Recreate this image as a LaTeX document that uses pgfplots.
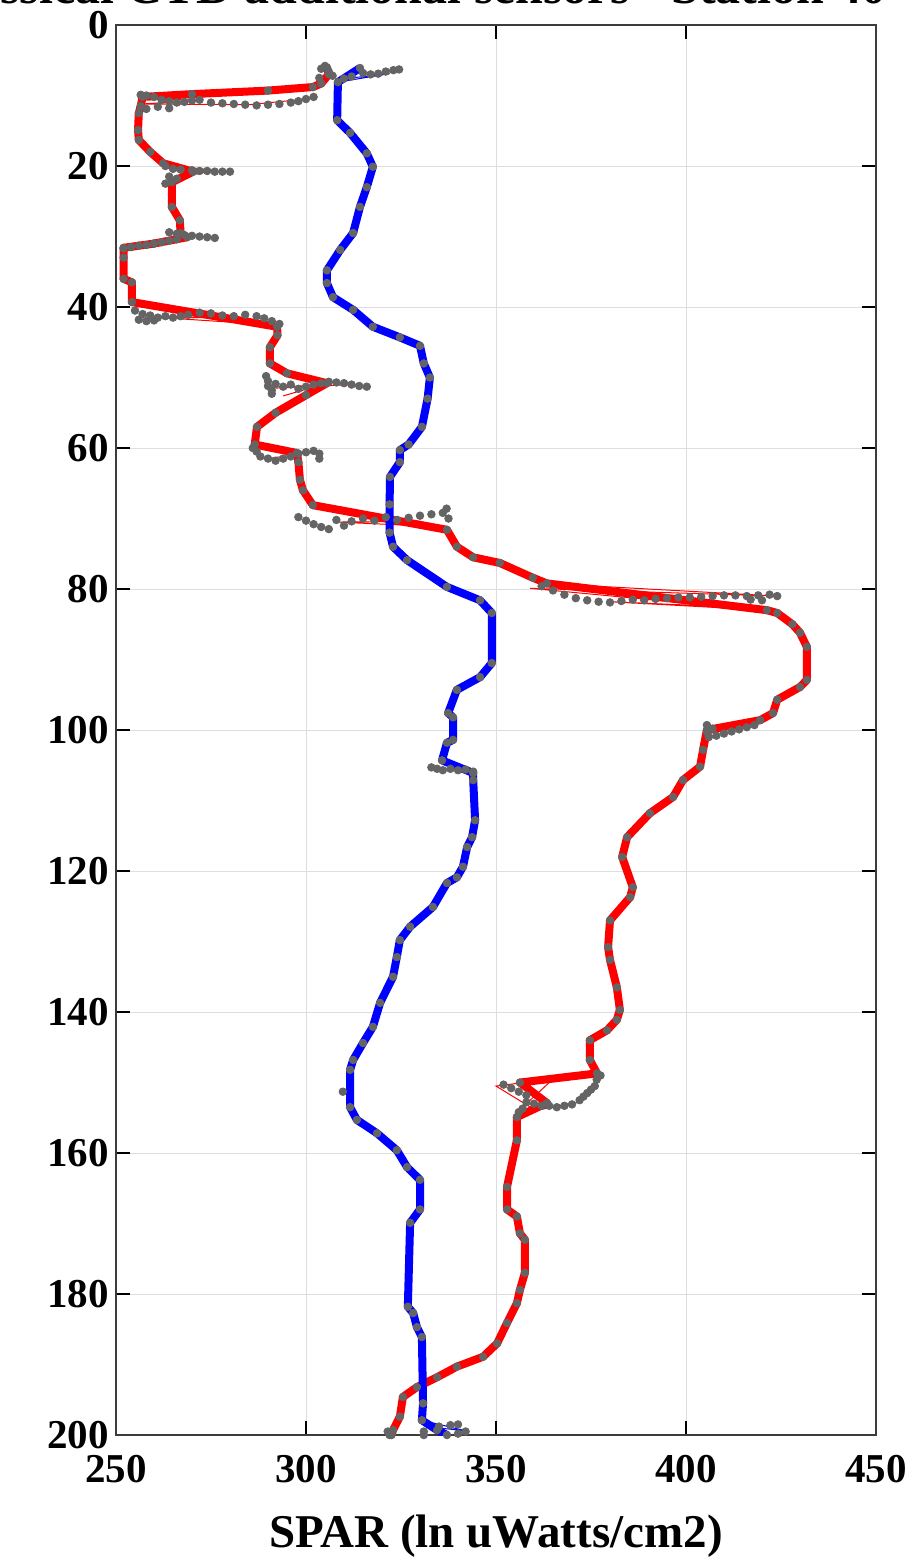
\documentclass[border=0pt]{standalone}
\usepackage{fontspec}
\setmainfont{Liberation Serif}
\usepackage{pgfplots}
\usepackage{pgfplotstable}
\pgfplotsset{compat=1.18}

\definecolor{rawgray}{RGB}{100,100,100}
\definecolor{gridgray}{RGB}{222,222,222}
\definecolor{axisgray}{RGB}{60,60,60}

% red sensor (x = SPAR, y = depth)
\pgfplotstableread{
x y
305.5 6.0
306 7
304 8.3
301.8 8.8
290 9.3
270 9.8
257 10.2
256.5 11.5
256 12.5
255.8 14.9
256 16.3
259 18
262.4 19.6
270.3 20.8
264.7 22.3
264.7 25.8
266.8 27.7
267 29.5
268.7 30.1
260 31
252 31.6
252 33
252 36
254.2 36.5
254.2 39.3
292.4 42.8
292.5 44
290.5 45.7
290.5 48
295 49.4
305.5 50.8
300 52.5
292 55
287.1 57
286.5 59.5
297.6 60.7
298 62
298.4 64.5
299.2 66
301.8 68.1
337.1 71.6
339.7 74
344 75.5
351 76.3
359.7 78.4
363.4 79.2
421.3 83
424 83.4
428 85
430 86.2
431.8 88.2
431.8 92.9
430 93.9
424 95.7
422.9 97.6
419.5 98.6
405.5 100
404.5 102.8
403.7 105.2
399.2 107.1
396.6 109.5
390.5 111.8
384.5 115.2
383.2 118
386 122.3
385.3 123.7
380 127
379.5 130.8
380 132.6
381.8 136.5
382.6 139.7
381.8 141.1
379.2 142.6
374.7 144
374.7 146.8
376.6 148.7
356.3 150
363.4 152.9
355.5 154.9
355.5 158.2
352.9 164.8
352.9 168
355.5 169
356.3 171.4
357.6 172.3
357.6 177
356.3 179.4
355.5 181.3
352.9 184.1
350.3 187
346.6 188.9
339.7 190.3
334.5 191.8
329.2 193.2
325.5 194.6
324.7 197.4
322.9 199.3
322.5 200
}\redtable

% blue sensor
\pgfplotstableread{
x y
314.2 6.1
308.4 8.1
308.2 13.5
311.6 15.3
316 18.2
317.6 20.1
316 23
314.2 25.8
312.4 29.5
309 31.9
305.5 34.8
305.5 36.6
307.1 38.6
312.4 40.4
317.6 42.8
324.7 44.3
330 45.5
331 48
332.6 50
332 53
330.5 57
327 59.5
324.7 60.3
324.7 62
322.1 64.1
322 68
322 72
322.9 74
326.6 75.9
337.1 79.7
345.8 81.6
348.9 83.4
348.9 90.5
345.8 92.5
339.7 94.3
337.4 97.6
338.7 98.2
338.7 101.4
337.1 101.8
335.8 104.3
344 106.1
344 107.1
344.5 112.8
343.7 115.2
342.4 116.6
341.3 119.4
339.7 120.9
337.1 121.7
333.4 125.1
327.4 127.9
324.7 129.8
323.9 132.2
322.9 135
319.5 138.7
317.6 142.1
315 144.4
312.4 146.8
311.6 148.2
311.6 153.5
313.4 155.3
318.7 157.2
323.9 159.6
326.6 162
330 163.8
330 168
327.4 169.9
326.8 181.8
328.2 182.7
329.2 184.7
330.5 186.1
330.8 195.5
330.5 197.9
334.5 199.3
337.1 200
}\bluetable

% raw samples off the smoothed profiles
\pgfplotstableread{
x y
304 6.2
305 5.8
306 6.6
307 7.2
303.5 7.5
310 7.6
312 7.3
315 6.8
317 7.0
319 6.9
321 6.6
323 6.4
324.5 6.3
256.5 9.9
258 10.0
260 10.2
262 10.6
264 10.8
266 11.0
268 10.9
270 10.7
272 10.6
275 11.0
278 11.1
281 11.2
284 11.3
287 11.4
290 11.3
293 11.2
296 11.0
298 10.8
300 10.5
302 10.2
256.5 11.6
258 11.9
261 11.6
264 11.8
263 20.0
265 20.4
267 20.5
270 20.6
272 20.7
274 20.7
276 20.8
278 20.8
280 20.8
264 21.5
266 21.8
263 22.5
264 29.4
266 29.6
268 29.8
270 29.9
272 30.0
274 30.1
276 30.2
252 31.7
254 31.5
256 31.3
258 31.2
260 31.0
262 30.8
264 30.6
266 30.4
255 40.5
257 41.0
259 41.2
261 41.5
263 41.3
265 41.5
267 41.3
269 41.1
272 40.8
275 40.9
278 41.2
281 41.3
284 41.1
287 41.3
289 41.6
291 42.0
293 42.4
256 41.8
258 42.0
260 41.9
289.5 49.8
290 50.5
290 51.2
291 51.8
292 50.9
294 51.3
296 51.0
298 51.6
300 51.3
302 51.0
304 50.8
306 50.6
308 50.7
310 50.8
312 51.0
314 51.2
316 51.3
291 52.3
286 60.0
287 60.5
288 61.2
290 61.5
292 61.8
294 61.5
296 61.2
298 60.8
300 60.6
302 60.4
303.5 60.8
303.5 61.5
298 69.8
300 70.3
302 70.8
304 71.2
306 71.5
308 70.2
310 71.0
312 70.4
315 70.0
318 70.3
321 69.8
324 70.2
327 69.9
330 69.6
333 69.4
336 69.2
337 68.6
337.5 70.0
362 79.6
365 80.2
368 80.8
371 81.3
374 81.6
377 81.8
380 81.9
383 81.7
386 81.5
389 81.6
392 81.4
395 81.3
398 81.2
401 81.2
404 81.1
407 81.0
410 80.9
413 80.9
416 81.0
419 80.9
422 80.8
424 81.0
420 81.6
417 81.5
405.5 99.3
405.5 100.3
406 101.0
408 100.8
410 100.5
412 100.2
414 99.9
416 99.6
418 99.3
407 99.8
333 105.3
334.5 105.5
336 105.7
338 105.5
340 105.7
342 105.6
344 105.9
352 150.3
354 150.8
356 151.3
358 151.8
358 152.8
357 153.7
356 154.2
360 153.0
362 153.3
364 153.3
366 153.5
368 153.3
370 153.1
372 152.5
373 152.0
374 151.5
375 151.0
376 150.5
376.5 149.6
377.5 149.0
309.7 151.3
335 198.8
338 198.6
340 198.5
342 199.5
340 199.8
331 199.5
331 200
321.5 199.5
322 200
}\rawtable

\begin{document}
\begin{tikzpicture}
\useasboundingbox (0,0) rectangle (454.5pt,-782pt);
\begin{axis}[
    scale only axis,
    width=380pt,
    height=705pt,
    at={(58pt,-12.5pt)},
    anchor=north west,
    xmin=250, xmax=450,
    ymin=0, ymax=200,
    y dir=reverse,
    xtick={250,300,350,400,450},
    ytick={0,20,40,60,80,100,120,140,160,180,200},
    tick align=inside,
    major tick length=7pt,
    every tick/.style={line width=0.6pt, color=black},
    grid=major,
    major grid style={line width=0.5pt, color=gridgray},
    axis line style={line width=0.8pt, color=axisgray},
    /pgf/number format/assume math mode=true,
    ticklabel style={font=\fontsize{20.5}{24}\selectfont\bfseries},
    xticklabel style={yshift=-6.7pt},
    xlabel={SPAR (ln uWatts/cm2)},
    xlabel style={at={(axis description cs:0.5,-0.0794)}, anchor=base,
        font=\fontsize{23.5}{28}\selectfont\bfseries},
    title={Classical CTD additional sensors - Station 40},
    title style={at={(axis description cs:-0.2513,1.0071)}, anchor=base west,
        inner sep=0pt, font=\fontsize{25}{30}\selectfont\bfseries},
]

% raw samples
\addplot[only marks, mark=*, mark size=1.9pt, rawgray, mark options={draw=none, fill=rawgray}] table[x=x, y=y] {\rawtable};
\addplot[only marks, mark=*, mark size=1.9pt, rawgray, mark options={draw=none, fill=rawgray}] table[x=x, y=y] {\redtable};
\addplot[only marks, mark=*, mark size=1.9pt, rawgray, mark options={draw=none, fill=rawgray}] table[x=x, y=y] {\bluetable};

% thin up/down cast loops
\addplot[red, line width=0.5pt] coordinates {(304,8.6) (257,10.3) (271,10.7) (257,11.2) (285,11.3) (300,10.5)};
\addplot[red, line width=0.5pt] coordinates {(262,19.8) (276,20.6) (265,21.8) (272,21)};
\addplot[red, line width=0.5pt] coordinates {(268,30) (253,31.6) (270,30.3)};
\addplot[red, line width=0.5pt] coordinates {(254,39.6) (290,42.5) (262,41.5) (280,41.5)};
\addplot[red, line width=0.5pt] coordinates {(295,49.5) (312,51) (292,51.5) (305,50.9) (294,52.6)};
\addplot[red, line width=0.5pt] coordinates {(287,59.8) (300,60.7) (290,61.5)};
\addplot[red, line width=0.5pt] coordinates {(302,68.5) (337,71.2) (308,70.5) (330,70.4)};
\addplot[red, line width=0.5pt] coordinates {(363,79.2) (424,81) (359,79.9) (410,82.5) (380,81.8) (421,83)};
\addplot[red, line width=0.5pt] coordinates {(419,98.6) (406,100.5) (417,99.3)};
\addplot[red, line width=0.5pt] coordinates {(376.6,148.7) (350,150.5) (360,153.8) (372,152.8) (355,154.5) (364,150)};
\addplot[blue, line width=0.5pt] coordinates {(336,104.2) (344,106.2) (337,105) (343,105.8)};
\addplot[blue, line width=0.5pt] coordinates {(330.5,197.9) (342,199.4) (335,199)};
\addplot[blue, line width=0.5pt] coordinates {(308.4,8.1) (322,6.9) (312,7.5)};

% smoothed profiles
\addplot[red, line width=4pt, line join=round] table[x=x, y=y] {\redtable};
\addplot[blue, line width=4pt, line join=round] table[x=x, y=y] {\bluetable};

\end{axis}
\end{tikzpicture}
\end{document}
